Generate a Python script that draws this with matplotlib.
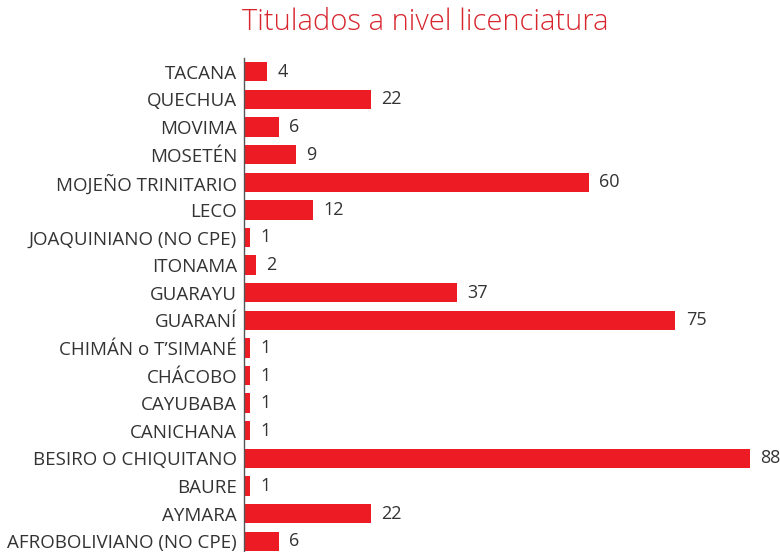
import matplotlib
matplotlib.use("Agg")
from matplotlib import pyplot as plt

pueblos = ["TACANA", "QUECHUA", "MOVIMA", "MOSETÉN", "MOJEÑO TRINITARIO", "LECO",
           "JOAQUINIANO (NO CPE)", "ITONAMA", "GUARAYU", "GUARANÍ",
           "CHIMÁN o T’SIMANÉ", "CHÁCOBO", "CAYUBABA", "CANICHANA",
           "BESIRO O CHIQUITANO", "BAURE", "AYMARA", "AFROBOLIVIANO (NO CPE)"]
titulados = [4, 22, 6, 9, 60, 12, 1, 2, 37, 75, 1, 1, 1, 1, 88, 1, 22, 6]

plt.rcParams['font.family'] = ['Open Sans', 'DejaVu Sans']

fig = plt.figure(figsize=(7.8, 5.52), dpi=100)
ax = fig.add_axes([244 / 780, -3 / 552, 536 / 780, 497 / 552])

pos = list(range(len(pueblos)))
ax.barh(pos, titulados, height=0.7, color="#ED1C24")
for p, v in zip(pos, titulados):
    ax.text(v + 1.8, p, str(v), va="center", ha="left", fontsize=13, color="#333333")

ax.set_xlim(0, 93.2)
ax.set_ylim(17.5, -0.5)
ax.set_yticks(pos)
ax.set_yticklabels(pueblos, fontsize=13.5, color="#333333")
ax.tick_params(axis="y", length=0, pad=5)
ax.set_xticks([])
for s in ["top", "right", "bottom"]:
    ax.spines[s].set_visible(False)
ax.spines["left"].set_color("#555555")
ax.spines["left"].set_linewidth(1)

fig.text(425 / 780, 1 - 22 / 552, "Titulados a nivel licenciatura", ha="center", va="center",
         fontsize=21, color="#D7262E", fontweight="light")

fig.savefig("out.png", dpi=100)
